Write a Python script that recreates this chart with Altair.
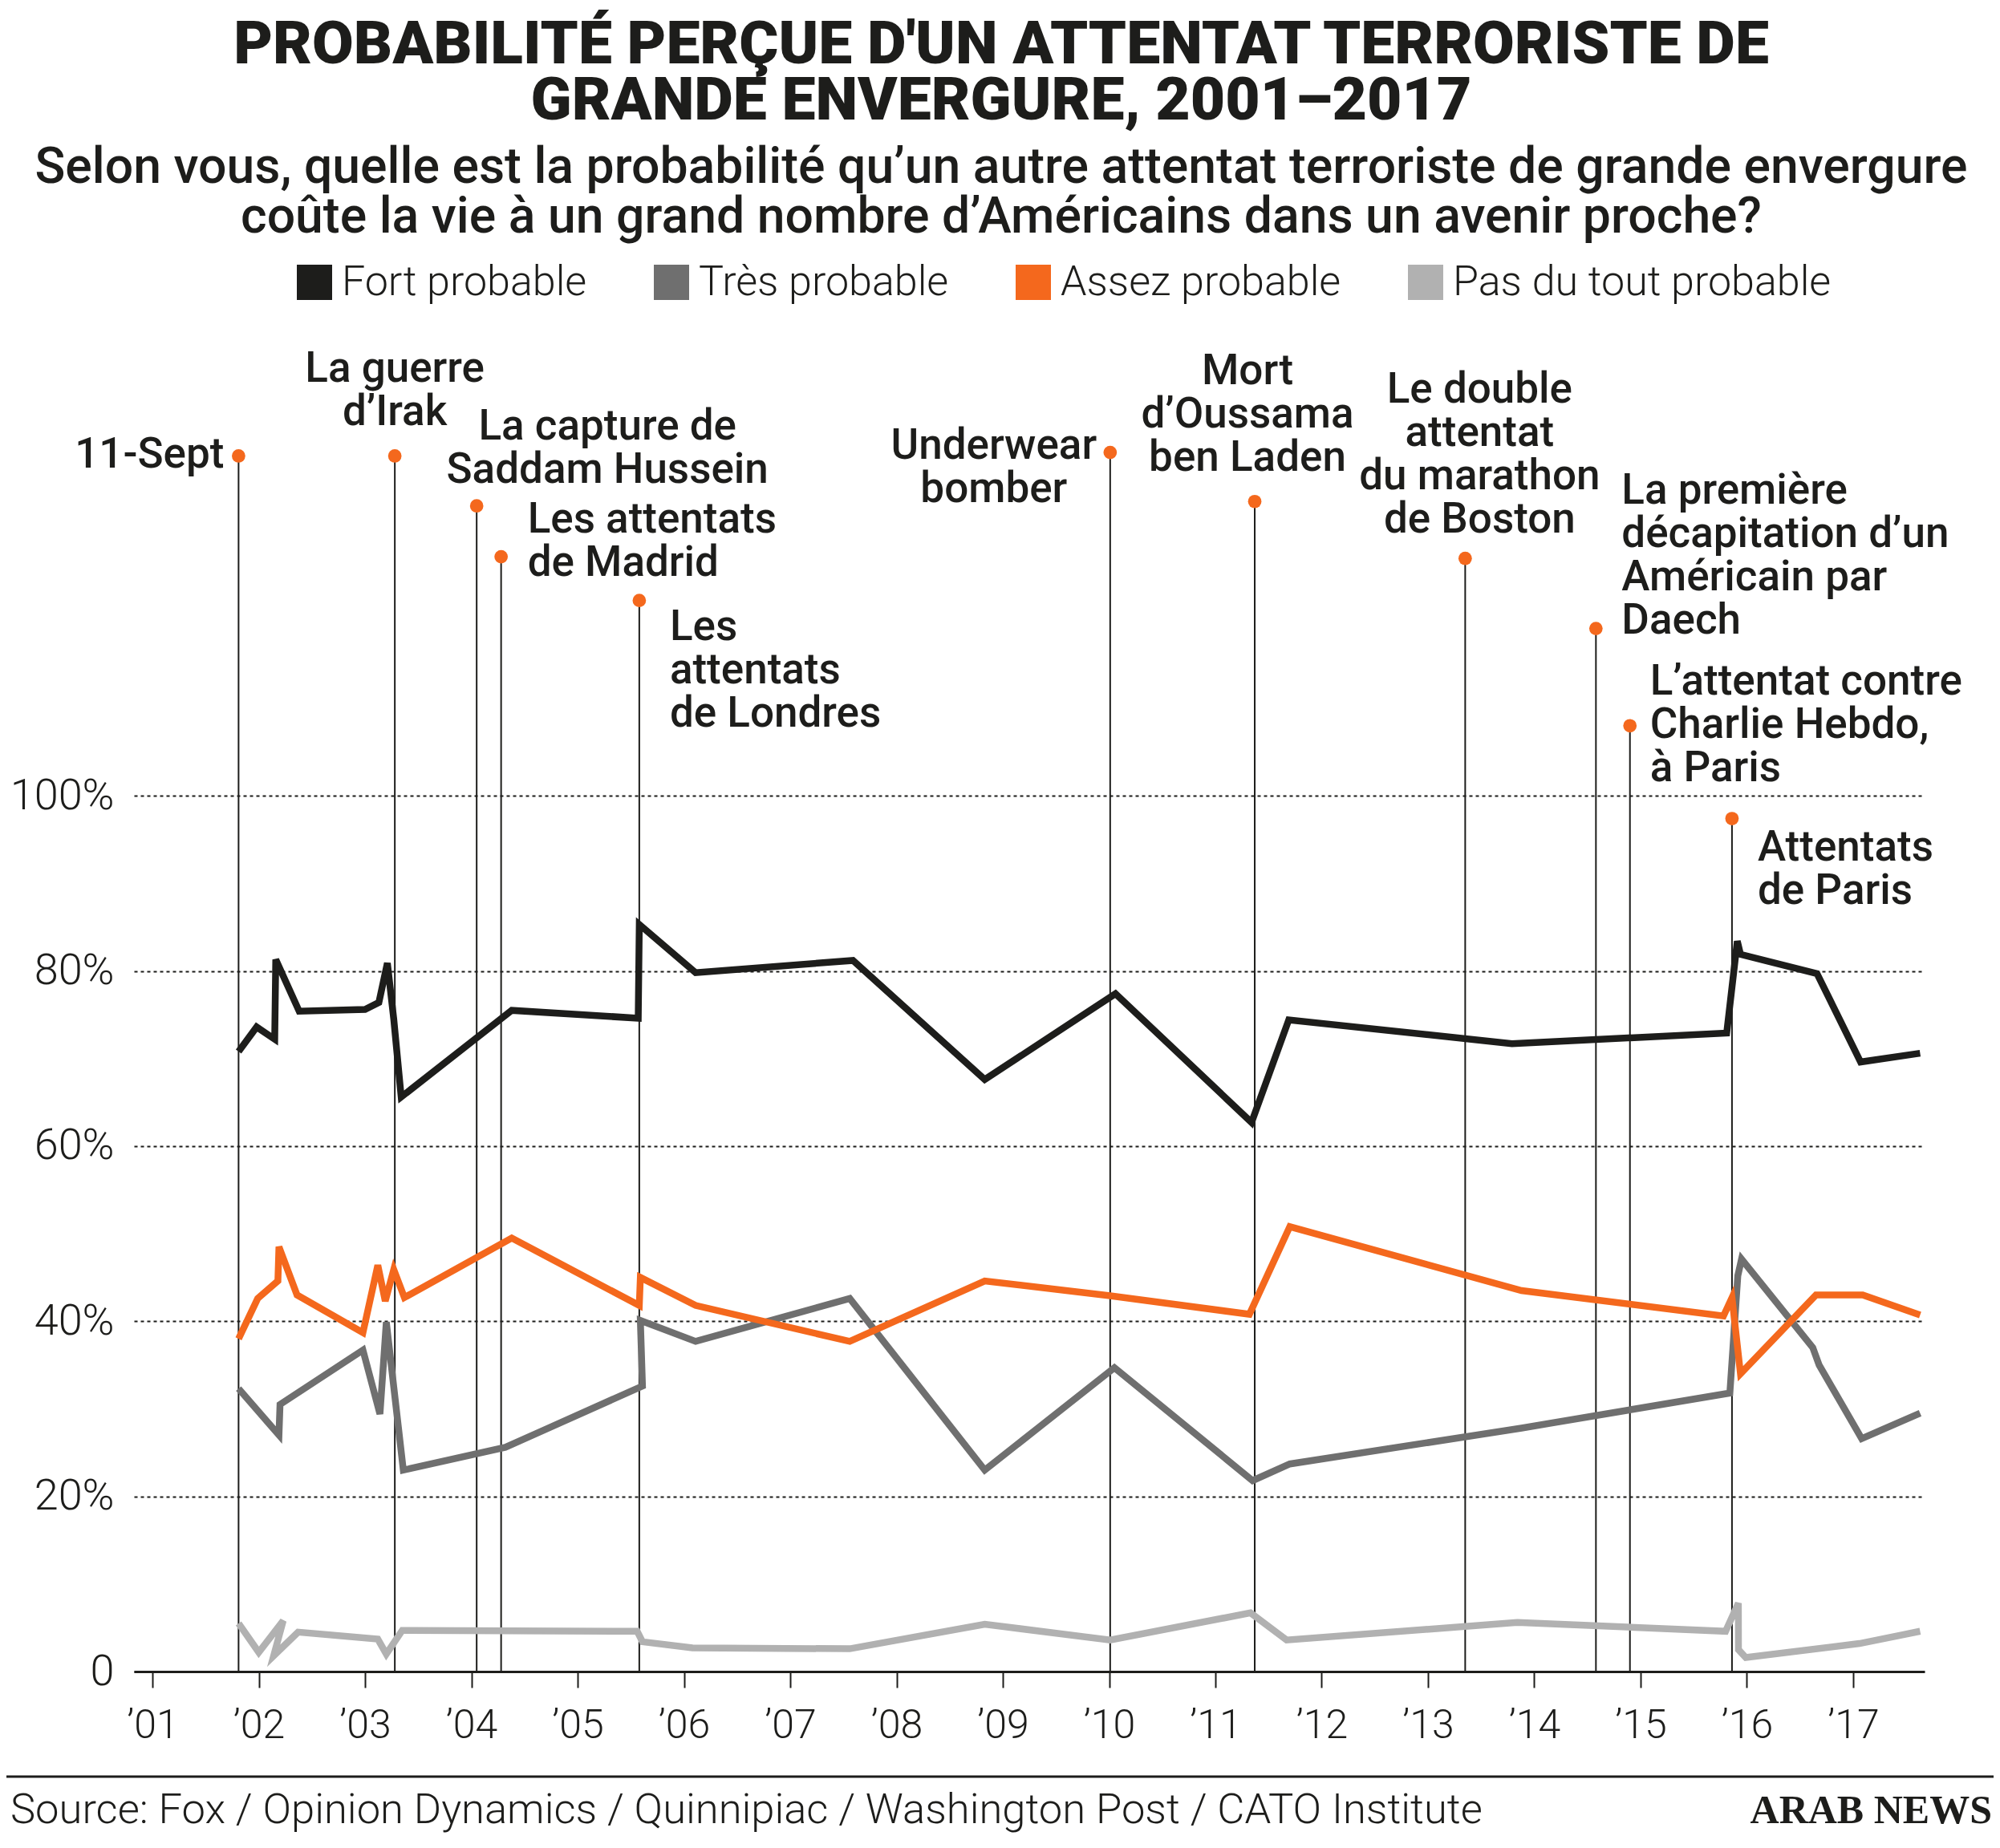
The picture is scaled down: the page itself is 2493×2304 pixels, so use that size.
import altair as alt
import pandas as pd

# ---------------- data ----------------
series_names = ["Fort probable", "Très probable", "Assez probable", "Pas du tout probable"]
series_colors = ["#1d1d1b", "#6f6f6f", "#f4681d", "#b1b1b1"]

fort_years = [2001.81, 2001.98, 2002.15, 2002.16, 2002.38, 2003.00, 2003.13, 2003.21, 2003.27, 2003.34,
              2004.38, 2005.57, 2005.58, 2006.11, 2007.59, 2008.83, 2010.06, 2011.34, 2011.69, 2013.79,
              2015.81, 2015.91, 2015.94, 2016.66, 2017.07, 2017.63]
fort_values = [70.8, 73.6, 72.2, 81.3, 75.4, 75.6, 76.4, 80.9, 74.5, 65.6,
               75.5, 74.6, 85.3, 79.8, 81.2, 67.6, 77.4, 62.7, 74.4, 71.7,
               72.9, 83.4, 81.9, 79.7, 69.6, 70.6]

tres_years = [2001.81, 2002.19, 2002.20, 2002.98, 2003.14, 2003.20, 2003.36, 2004.32, 2005.61, 2005.59,
              2006.11, 2007.56, 2008.83, 2010.05, 2011.35, 2011.70, 2013.88, 2015.84, 2015.915, 2015.95,
              2016.62, 2016.68, 2017.08, 2017.63]
tres_values = [32.3, 27.0, 30.5, 36.7, 29.4, 39.9, 23.0, 25.6, 32.6, 40.1,
               37.7, 42.6, 23.0, 34.7, 21.8, 23.7, 27.8, 31.8, 45.2, 47.1,
               37.0, 35.0, 26.6, 29.5]

assez_years = [2001.81, 2001.99, 2002.18, 2002.19, 2002.36, 2002.98, 2003.12, 2003.19, 2003.27, 2003.37,
               2004.38, 2005.58, 2005.59, 2006.11, 2007.56, 2008.83, 2010.01, 2011.32, 2011.70, 2013.88,
               2015.78, 2015.86, 2015.94, 2016.65, 2017.09, 2017.63]
assez_values = [38.0, 42.6, 44.6, 48.5, 43.0, 38.7, 46.4, 42.3, 45.9, 42.7,
                49.5, 41.8, 45.0, 41.8, 37.7, 44.6, 42.9, 40.8, 50.8, 43.5,
                40.6, 42.7, 34.0, 43.0, 43.0, 40.7]

pas_years = [2001.81, 2002.00, 2002.23, 2002.14, 2002.37, 2003.12, 2003.20, 2003.35, 2005.56, 2005.61,
             2006.08, 2007.56, 2008.83, 2010.01, 2011.33, 2011.67, 2013.84, 2015.80, 2015.92, 2015.921,
             2015.99, 2017.06, 2017.63]
pas_values = [5.5, 2.2, 5.8, 1.8, 4.5, 3.7, 2.0, 4.7, 4.6, 3.4,
              2.7, 2.6, 5.4, 3.6, 6.7, 3.6, 5.6, 4.6, 7.8, 2.5,
              1.6, 3.2, 4.6]

event_labels = [
    ["11-Sept"],
    ["La guerre", "d’Irak"],
    ["La capture de", "Saddam Hussein"],
    ["Les attentats", "de Madrid"],
    ["Les", "attentats", "de Londres"],
    ["Underwear", "bomber"],
    ["Mort", "d’Oussama", "ben Laden"],
    ["Le double", "attentat", "du marathon", "de Boston"],
    ["La première", "décapitation d’un", "Américain par", "Daech"],
    ["L’attentat contre", "Charlie Hebdo,", "à Paris"],
    ["Attentats", "de Paris"],
]
event_years = [2001.81, 2003.28, 2004.05, 2004.28, 2005.58, 2010.01, 2011.37, 2013.35, 2014.58, 2014.90, 2015.86]
event_values = [138.8, 138.8, 133.1, 127.3, 122.3, 139.2, 133.6, 127.1, 119.1, 108.0, 97.4]

x_ticks = list(range(2001, 2018))
y_ticks = [0, 20, 40, 60, 80, 100]

title_lines = ["PROBABILITÉ PERÇUE D'UN ATTENTAT TERRORISTE DE", "GRANDE ENVERGURE, 2001–2017"]
subtitle_lines = ["Selon vous, quelle est la probabilité qu’un autre attentat terroriste de grande envergure",
                  "coûte la vie à un grand nombre d’Américains dans un avenir proche?"]
source_text = "Source: Fox / Opinion Dynamics / Quinnipiac / Washington Post / CATO Institute"
brand_text = "ARAB NEWS"

# ---------------- layout / style ----------------
INK = "#1d1d1b"
ORANGE = "#f4681d"
FONT = "Roboto"
X_DOMAIN = [2000.826, 2017.672]
Y_DOMAIN = [0, 160]
W, H = 2232, 1747

# label placement for each event: (align, dx, dy)
label_layout = [
    ("right", -18, 15),
    ("center", 0, -92),
    ("center", 163, -83),
    ("left", 33, -30),
    ("left", 38, 49),
    ("center", -145, 8),
    ("center", -9, -146),
    ("center", 18, -194),
    ("left", 32, -156),
    ("left", 25, -39),
    ("left", 32, 52),
]

# ---------------- tables ----------------
rows = []
for name, ys, vs in zip(series_names,
                        [fort_years, tres_years, assez_years, pas_years],
                        [fort_values, tres_values, assez_values, pas_values]):
    for i, (yr, v) in enumerate(zip(ys, vs)):
        rows.append({"series": name, "year": yr, "value": v, "order": i})
df_lines = pd.DataFrame(rows)

df_events = pd.DataFrame({"year": event_years, "value": event_values})

x_scale = alt.Scale(domain=X_DOMAIN, nice=False, zero=False)
y_scale = alt.Scale(domain=Y_DOMAIN, nice=False, zero=False)
series_scale = alt.Scale(domain=series_names, range=series_colors)

x_axis = alt.Axis(
    values=x_ticks, title=None, grid=False,
    labelExpr="'’' + substring(toString(datum.value), 2)",
    domainColor=INK, domainWidth=3,
    tickColor=INK, tickWidth=2, tickSize=20,
    labelFont=FONT, labelFontSize=50, labelFontWeight=300, labelColor=INK,
    labelPadding=22, labelFlush=False, labelOverlap=False,
)
y_axis = alt.Axis(
    values=y_ticks, title=None, domain=False, ticks=False,
    grid=True, gridColor=INK, gridDash=[4, 4], gridWidth=2, gridOpacity=1,
    labelExpr="datum.value == 0 ? '0' : datum.value + '%'",
    labelFont=FONT, labelFontSize=54, labelFontWeight=300, labelColor=INK,
    labelPadding=25,
)

# square swatches: a tiny square with a very wide stroke renders as a solid block
legend = alt.Legend(
    orient="none", legendX=199, legendY=-11, direction="horizontal", title=None,
    symbolType="square", symbolSize=4, symbolStrokeWidth=42, symbolOpacity=1,
    labelFont=FONT, labelFontSize=52, labelFontWeight=300, labelColor=INK,
    labelOffset=8, labelLimit=1000, columnPadding=20, padding=0,
)

rules = alt.Chart(df_events).mark_rule(color=INK, strokeWidth=2).encode(
    x=alt.X("year:Q", scale=x_scale, axis=x_axis),
    y=alt.Y("value:Q", scale=y_scale, axis=y_axis),
    y2=alt.datum(0),
)

lines = alt.Chart(df_lines).mark_line().encode(
    x=alt.X("year:Q", scale=x_scale),
    y=alt.Y("value:Q", scale=y_scale),
    color=alt.Color("series:N", scale=series_scale, legend=legend),
    order=alt.Order("order:Q"),
    strokeWidth=alt.value(8.5),
)

dots = alt.Chart(df_events).mark_circle(color=ORANGE, size=280, opacity=1).encode(
    x=alt.X("year:Q", scale=x_scale),
    y=alt.Y("value:Q", scale=y_scale),
)

label_layers = []
for lab, yr, v, (al, dx, dy) in zip(event_labels, event_years, event_values, label_layout):
    label_layers.append(
        alt.Chart(alt.Data(values=[{"year": yr, "value": v, "label": lab}])).mark_text(
            align=al, baseline="alphabetic", dx=dx, dy=dy,
            font=FONT, fontSize=53, fontWeight=500, lineHeight=54, color=INK,
        ).encode(
            x=alt.X("year:Q", scale=x_scale),
            y=alt.Y("value:Q", scale=y_scale),
            text="label:N",
        )
    )

bottom_rule = alt.Chart(alt.Data(values=[{"a": 1}])).mark_rule(color=INK, strokeWidth=3).encode(
    x=alt.value(-159), x2=alt.value(2318), y=alt.value(1878)
)
source = alt.Chart(alt.Data(values=[{"t": source_text}])).mark_text(
    align="left", baseline="alphabetic", font=FONT, fontSize=52.5, fontWeight=300, color=INK
).encode(x=alt.value(-154), y=alt.value(1936), text="t:N")
brand = alt.Chart(alt.Data(values=[{"t": brand_text}])).mark_text(
    align="right", baseline="alphabetic", font="Liberation Serif", fontSize=50, fontWeight="bold", color=INK
).encode(x=alt.value(2316), y=alt.value(1936), text="t:N")

chart = alt.layer(rules, lines, dots, *label_layers, bottom_rule, source, brand).properties(
    width=W, height=H,
    autosize=alt.AutoSizeParams(type="none"),
    padding={"left": 159, "top": 329, "right": 86, "bottom": 212},
    title=alt.TitleParams(
        text=title_lines, subtitle=subtitle_lines,
        anchor="middle", frame="group", dx=-35, offset=23,
        font=FONT, fontSize=75, fontWeight=900, color=INK, lineHeight=70,
        subtitleFont=FONT, subtitleFontSize=62.5, subtitleFontWeight=500,
        subtitleColor=INK, subtitleLineHeight=62, subtitlePadding=14,
    ),
    background="white",
).configure_view(stroke=None)

chart.save("out.html", embed_options={"renderer": "svg", "actions": False})
